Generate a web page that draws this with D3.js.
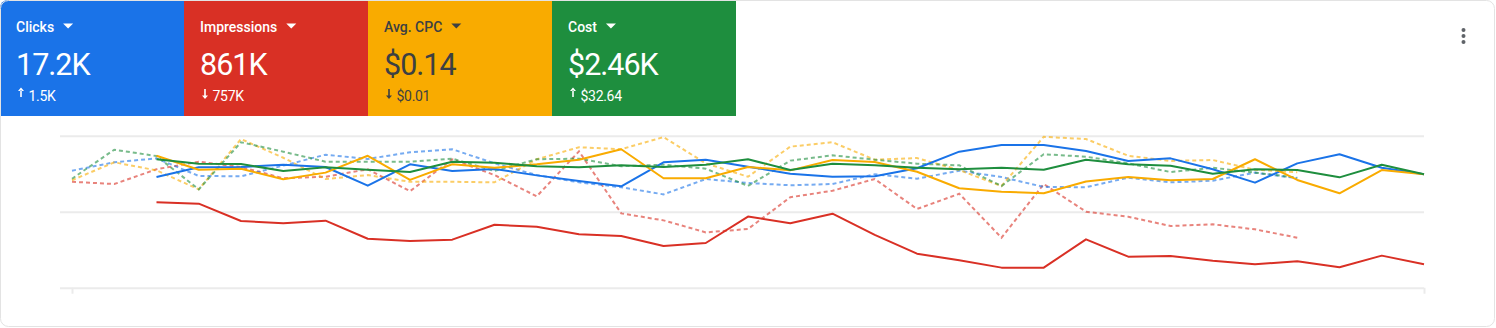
<!DOCTYPE html>
<html>
<head>
<meta charset="utf-8">
<script src="https://cdn.jsdelivr.net/npm/d3@7"></script>
<style>
  html, body { margin: 0; padding: 0; background: #ffffff; }
  svg { display: block; font-family: Roboto, "Noto Sans", Arial, sans-serif; }
</style>
</head>
<body>
<svg id="chart" width="1496" height="328"></svg>
<script>
// ---- Data (normalized to each metric's own scale, 0-100) ----
const days = d3.range(33);             // day index along the period
const currentStart = 2;               // current period starts at day index 2
const previousStart = 0;

const clicks = [72.8,79.2,79.4,80.9,79.4,67.1,81.2,76.8,78.1,73.9,70.2,66.7,82.5,84.2,79.6,75.0,73.0,73.3,78.6,89.5,93.9,93.9,89.9,83.4,85.1,77.9,69.1,81.8,87.8,78.9,74.6];
const impressions = [56.2,55.3,43.9,42.4,44.1,32.2,30.7,31.6,41.4,40.1,35.1,34.0,27.4,29.4,46.8,42.4,48.7,34.7,22.4,18.0,13.2,13.2,31.8,20.4,20.9,17.8,15.4,17.4,13.4,21.1,15.4];
const avgCpc = [86.8,77.6,78.3,71.3,75.7,86.8,70.9,81.2,78.9,81.2,84.2,91.1,72.0,72.0,79.4,77.2,84.0,82.7,76.3,65.4,63.2,62.1,69.9,72.8,70.7,71.5,84.5,70.9,62.1,77.4,74.6];
const cost = [84.5,81.6,81.4,76.8,79.2,77.6,76.1,82.9,82.2,79.9,79.2,80.5,79.4,80.9,84.5,77.4,81.6,80.5,78.9,77.9,78.9,77.6,84.2,81.2,80.3,75.0,77.9,77.4,72.6,80.9,74.6];

const clicksPrev = [77.0,82.5,85.1,73.5,73.3,80.3,87.5,84.7,89.1,91.1,81.8,74.1,69.3,66.1,61.4,71.5,68.9,67.4,68.2,74.6,71.7,77.0,72.8,66.3,66.1,72.4,69.3,70.4,75.7,72.0];
const impressionsPrev = [69.7,68.2,77.9,82.9,79.4,72.0,73.0,77.9,63.5,84.5,74.1,60.1,89.7,48.9,44.3,36.4,38.6,59.5,63.8,71.5,51.8,61.8,32.9,68.2,50.0,46.7,40.6,41.7,38.4,32.9];
const avgCpcPrev = [70.7,82.5,77.2,64.7,97.8,85.5,71.5,74.1,69.7,69.7,69.3,84.5,92.4,91.1,99.1,81.8,73.0,92.8,95.7,84.2,85.3,77.4,66.9,99.3,97.8,86.8,83.4,84.0,77.6,75.9];
const costPrev = [71.7,90.8,86.6,64.7,95.7,89.5,82.9,82.9,82.9,84.9,76.8,84.5,84.9,79.9,80.9,78.3,67.0,83.6,87.1,84.2,81.6,80.5,66.9,87.8,86.2,81.8,76.1,78.9,75.7,72.4];

const gridValues = [0, 50, 100];

// Scorecards
const cardNames = ["Clicks", "Impressions", "Avg. CPC", "Cost"];
const cardValues = ["17.2K", "861K", "$0.14", "$2.46K"];
const cardDeltas = ["1.5K", "757K", "$0.01", "$32.64"];
const cardUp = [true, false, false, true];
const cardColors = ["#1a73e8", "#d93025", "#f9ab00", "#1e8e3e"];
const cardText = ["#ffffff", "#ffffff", "#3c4043", "#ffffff"];

// ---- Drawing ----
const W = 1496, H = 328;
const svg = d3.select("#chart");

const defs = svg.append("defs");
defs.append("clipPath").attr("id", "frame")
  .append("rect").attr("x", 0).attr("y", 0).attr("width", W - 1).attr("height", H - 1).attr("rx", 8);

const root = svg.append("g").attr("clip-path", "url(#frame)");
root.append("rect").attr("width", W).attr("height", H).attr("fill", "#fff");

// cards
const cardW = 184, cardH = 116;
const cards = root.selectAll("g.card").data(cardNames).join("g")
  .attr("class", "card")
  .attr("transform", (d, i) => `translate(${i * cardW},0)`);

cards.append("rect").attr("width", cardW).attr("height", cardH)
  .attr("fill", (d, i) => cardColors[i]);

cards.each(function(d, i) {
  const g = d3.select(this);
  const col = cardText[i];
  const t = g.append("text").attr("x", 16).attr("y", 32)
    .attr("fill", col).attr("font-size", 14).attr("font-weight", 500)
    .text(d);
  const tw = t.node().getComputedTextLength();
  const tx = 16 + tw + 9;
  g.append("path")
    .attr("d", `M${tx},23.5 L${tx + 10},23.5 L${tx + 5},28.5 Z`)
    .attr("fill", col);
  g.append("text").attr("x", 16).attr("y", 75)
    .attr("fill", col).attr("font-size", 30.5).attr("font-weight", 400)
    .attr("letter-spacing", -1)
    .text(cardValues[i]);
  // arrow
  const ax = 21;
  const arrow = cardUp[i]
    ? `M${ax},87.5 L${ax - 3},91 L${ax + 3},91 Z M${ax - 0.8},90.5 L${ax + 0.8},90.5 L${ax + 0.8},97 L${ax - 0.8},97 Z`
    : `M${ax},99 L${ax - 3},95.5 L${ax + 3},95.5 Z M${ax - 0.8},89 L${ax + 0.8},89 L${ax + 0.8},96 L${ax - 0.8},96 Z`;
  g.append("path").attr("d", arrow).attr("fill", col);
  g.append("text").attr("x", 28.5).attr("y", 100.5)
    .attr("fill", col).attr("font-size", 14).attr("font-weight", 400)
    .attr("letter-spacing", -0.3)
    .text(cardDeltas[i]);
});

// menu dots
root.append("g").selectAll("circle").data([0, 1, 2]).join("circle")
  .attr("cx", 1463.5).attr("cy", d => 30 + d * 6).attr("r", 2)
  .attr("fill", "#5f6368");

// chart
const x = d3.scaleLinear().domain([0, 32]).range([72, 1424]);
const y = d3.scaleLinear().domain([0, 100]).range([287.7, 135.7]);

const gridG = root.append("g").attr("transform", "translate(60,0)")
  .call(d3.axisLeft(y).tickValues(gridValues).tickSize(-(1424 - 60)).tickFormat(""));
gridG.select(".domain").remove();
gridG.selectAll(".tick line").attr("stroke", "#ebebeb").attr("stroke-width", 2);

const xAxisG = root.append("g").attr("transform", `translate(0,${y(0)})`)
  .call(d3.axisBottom(x).tickValues([0, 32]).tickSize(6).tickFormat(""));
xAxisG.select(".domain").remove();
xAxisG.selectAll(".tick line").attr("stroke", "#ebebeb").attr("stroke-width", 2);

const line = d3.line().x(d => x(d[0])).y(d => y(d[1]));
const toPts = (arr, start) => arr.map((v, i) => [days[start + i], v]);

const prevSeries = [
  [impressionsPrev, "#d93025"],
  [clicksPrev, "#1a73e8"],
  [avgCpcPrev, "#f9ab00"],
  [costPrev, "#1e8e3e"]
];
const curSeries = [
  [impressions, "#d93025"],
  [clicks, "#1a73e8"],
  [avgCpc, "#f9ab00"],
  [cost, "#1e8e3e"]
];

root.append("g").selectAll("path").data(prevSeries).join("path")
  .attr("d", d => line(toPts(d[0], previousStart)))
  .attr("fill", "none").attr("stroke", d => d[1])
  .attr("stroke-opacity", 0.6).attr("stroke-width", 2)
  .attr("stroke-dasharray", "4,3");

root.append("g").selectAll("path").data(curSeries).join("path")
  .attr("d", d => line(toPts(d[0], currentStart)))
  .attr("fill", "none").attr("stroke", d => d[1])
  .attr("stroke-width", 2).attr("stroke-linejoin", "round");

// frame border
svg.append("rect").attr("x", 0.5).attr("y", 0.5).attr("width", W - 2).attr("height", H - 2)
  .attr("rx", 8).attr("fill", "none").attr("stroke", "#e3e3e3");
</script>
</body>
</html>
